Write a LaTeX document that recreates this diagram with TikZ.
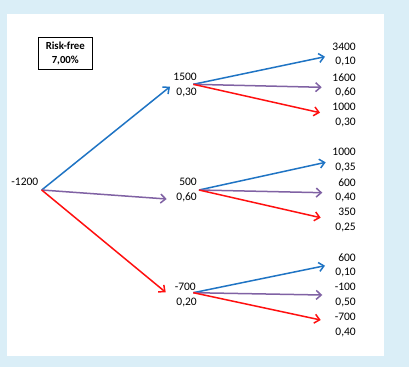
\documentclass[tikz,border=0pt]{standalone}
\usepackage{fontspec}
\setmainfont{Carlito}
\usetikzlibrary{arrows.meta}
\definecolor{bgblue}{HTML}{DAEEF7}
\definecolor{ablue}{HTML}{1F74C4}
\definecolor{apurple}{HTML}{8062A4}
\definecolor{ared}{HTML}{FF1010}
\tikzset{
  lbl/.style={inner sep=0pt, anchor=east, font=\fontsize{11.5}{13}\selectfont},
  arr/.style={line width=1.5pt, -{Straight Barb[length=5pt,width=9pt,line width=1.5pt]}},
  up/.style={arr, draw=ablue},
  mid/.style={arr, draw=apurple},
  dn/.style={arr, draw=ared},
}
\begin{document}
\begin{tikzpicture}[x=1pt,y=-1pt]
\useasboundingbox (0,0) rectangle (409,367);
\fill[bgblue] (0,0) rectangle (409,367);
\fill[white] (7,14) rectangle (384,356);
% risk-free box
\node[draw, line width=1.3pt, minimum width=54pt, minimum height=32pt, inner sep=0pt, align=center,
  font=\bfseries\fontsize{10.8}{14.5}\selectfont] (rf) at (65.3,53.3) {Risk-free\\7,00\%};
% root
\coordinate (r) at (41.7,190);
\node[lbl] (t0) at (38.5,182.3) {-1200};
% middle nodes
\coordinate (a) at (193.3,84.3);
\coordinate (b) at (199,190);
\coordinate (c) at (193.3,292.7);
\coordinate (ae) at (170,86.7);
\coordinate (be) at (166.7,199);
\coordinate (ce) at (165.7,292.3);
\node[lbl] (a1) at (197,77.3) {1500};
\node[lbl] (a2) at (197,92.3) {0,30};
\node[lbl] (b1) at (197,182.3) {500};
\node[lbl] (b2) at (197,197.3) {0,60};
\node[lbl] (c1) at (196,287.3) {-700};
\node[lbl] (c2) at (197,302.3) {0,20};
\draw[up] (r) -- (ae);
\draw[mid] (r) -- (be);
\draw[dn] (r) -- (ce);
% leaves
\coordinate (a-u) at (325,56.7);
\coordinate (a-m) at (321.7,87.3);
\coordinate (a-d) at (320,112.7);
\coordinate (b-u) at (325.7,162.3);
\coordinate (b-m) at (322.3,192.7);
\coordinate (b-d) at (320.7,217.7);
\coordinate (c-u) at (325,265.7);
\coordinate (c-m) at (322.3,295);
\coordinate (c-d) at (320.7,320);
\foreach \n in {a,b,c}{
  \draw[up] (\n) -- (\n-u);
  \draw[mid] (\n) -- (\n-m);
  \draw[dn] (\n) -- (\n-d);
}
\node[lbl] (l1) at (356,46.7) {3400};
\node[lbl] (l2) at (356,61.7) {0,10};
\node[lbl] (l3) at (356,77.3) {1600};
\node[lbl] (l4) at (356,92.3) {0,60};
\node[lbl] (l5) at (356,107.3) {1000};
\node[lbl] (l6) at (356,122.3) {0,30};
\node[lbl] (m1) at (356,152.3) {1000};
\node[lbl] (m2) at (356,167.3) {0,35};
\node[lbl] (m3) at (356,182.3) {600};
\node[lbl] (m4) at (356,197.3) {0,40};
\node[lbl] (m5) at (356,212.3) {350};
\node[lbl] (m6) at (356,227.3) {0,25};
\node[lbl] (n1) at (356,257.3) {600};
\node[lbl] (n2) at (356,272.3) {0,10};
\node[lbl] (n3) at (356,287.3) {-100};
\node[lbl] (n4) at (356,302.3) {0,50};
\node[lbl] (n5) at (356,317.3) {-700};
\node[lbl] (n6) at (356,332.3) {0,40};
\end{tikzpicture}
\end{document}
